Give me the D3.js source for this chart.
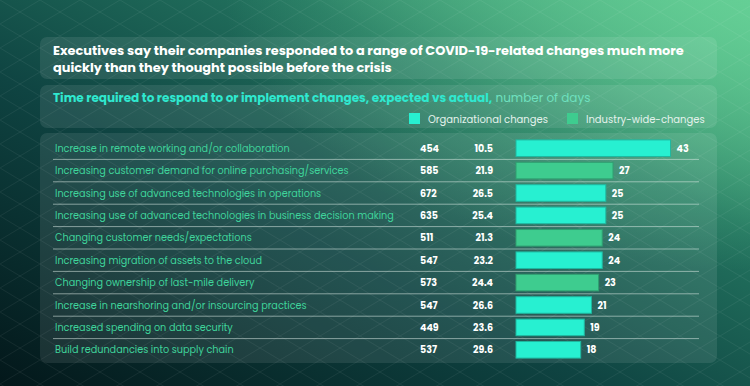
<!DOCTYPE html>
<html>
<head>
<meta charset="utf-8">
<script src="https://cdn.jsdelivr.net/npm/d3@7"></script>
<style>
  html, body { margin: 0; padding: 0; background: #0a2f30; }
  svg { display: block; }
</style>
</head>
<body>
<div class="board"></div>
<script>
(function() {

  var categories = [
    'Increase in remote working and/or collaboration',
    'Increasing customer demand for online purchasing/services',
    'Increasing use of advanced technologies in operations',
    'Increasing use of advanced technologies in business decision making',
    'Changing customer needs/expectations',
    'Increasing migration of assets to the cloud',
    'Changing ownership of last-mile delivery',
    'Increase in nearshoring and/or insourcing practices',
    'Increased spending on data security',
    'Build redundancies into supply chain'
  ];
  var expectedDays = [454, 585, 672, 635, 511, 547, 573, 547, 449, 537];
  var actualDays = [10.5, 21.9, 26.5, 25.4, 21.3, 23.2, 24.4, 26.6, 23.6, 29.6];
  var speedUp = [43, 27, 25, 25, 24, 24, 23, 21, 19, 18];
  var changeType = ['org', 'ind', 'org', 'org', 'ind', 'org', 'ind', 'org', 'org', 'org'];
  var legendLabels = ['Organizational changes', 'Industry-wide-changes'];

  var W = 750, H = 386;
  var colors = { org: '#27f0d1', ind: '#3ecc8f' };
  var strokes = { org: '#1fb8a0', ind: '#2f9f70' };
  var font = 'Poppins, "Noto Sans", sans-serif';

  var rows = categories.map(function(c, i) {
    return { cat: c, exp: expectedDays[i], act: actualDays[i], val: speedUp[i], type: changeType[i] };
  });

  var svg = d3.select('.board')
    .append('svg')
    .attr('width', W)
    .attr('height', H);

  var defs = svg.append('defs');

  var bg = defs.append('linearGradient')
    .attr('id', 'bg')
    .attr('x1', '0%').attr('y1', '100%')
    .attr('x2', '100%').attr('y2', '0%');
  bg.append('stop').attr('offset', '0%').attr('stop-color', '#03171a');
  bg.append('stop').attr('offset', '40%').attr('stop-color', '#0f4442');
  bg.append('stop').attr('offset', '70%').attr('stop-color', '#23745f');
  bg.append('stop').attr('offset', '100%').attr('stop-color', '#5fca92');

  var glow = defs.append('radialGradient')
    .attr('id', 'glow')
    .attr('cx', '100%').attr('cy', '0%').attr('r', '70%');
  glow.append('stop').attr('offset', '0%').attr('stop-color', '#66d096').attr('stop-opacity', 0.8);
  glow.append('stop').attr('offset', '100%').attr('stop-color', '#66d096').attr('stop-opacity', 0);

  var pat = defs.append('pattern')
    .attr('id', 'diamonds')
    .attr('patternUnits', 'userSpaceOnUse')
    .attr('width', 40).attr('height', 24);
  pat.append('path')
    .attr('d', 'M0,0 L40,24 M40,0 L0,24')
    .attr('stroke', 'rgba(255,255,255,0.07)')
    .attr('stroke-width', 0.8)
    .attr('fill', 'none');

  svg.append('rect').attr('width', W).attr('height', H).attr('fill', 'url(#bg)');
  svg.append('rect').attr('width', W).attr('height', H).attr('fill', 'url(#glow)');
  svg.append('rect').attr('width', W).attr('height', H).attr('fill', 'url(#diamonds)');

  // panels
  var panels = [
    { y: 37, h: 42 },
    { y: 85, h: 43 },
    { y: 133, h: 230 }
  ];
  svg.selectAll('rect.panel')
    .data(panels)
    .enter()
    .append('rect')
    .attr('class', 'panel')
    .attr('x', 40)
    .attr('width', 677)
    .attr('y', function(d) { return d.y; })
    .attr('height', function(d) { return d.h; })
    .attr('rx', 7)
    .attr('fill', 'rgba(255,255,255,0.09)');

  // title
  var title = svg.append('text')
    .style('font-family', font)
    .style('font-weight', 700)
    .style('font-size', '12.9px')
    .style('fill', '#ffffff');
  title.append('tspan').attr('x', 53).attr('y', 55)
    .text('Executives say their companies responded to a range of COVID-19-related changes much more');
  title.append('tspan').attr('x', 53).attr('y', 71.5)
    .text('quickly than they thought possible before the crisis');

  var sub = svg.append('text')
    .attr('x', 53)
    .attr('y', 102)
    .style('font-family', font)
    .style('font-size', '12px');
  sub.append('tspan')
    .style('font-weight', 700)
    .style('fill', '#2fe8cf')
    .text('Time required to respond to or implement changes, expected vs actual,');
  sub.append('tspan')
    .style('font-weight', 400)
    .style('fill', '#6fe0bf')
    .text(' number of days');

  // legend
  var legendX = [409, 567];
  var legend = svg.selectAll('g.legend')
    .data(legendLabels)
    .enter()
    .append('g')
    .attr('class', 'legend')
    .attr('transform', function(d, i) { return 'translate(' + legendX[i] + ',113)'; });
  legend.append('rect')
    .attr('width', 11)
    .attr('height', 11)
    .attr('fill', function(d, i) { return i === 0 ? colors.org : colors.ind; });
  legend.append('text')
    .attr('x', 19)
    .attr('y', 9.5)
    .text(function(d) { return d; })
    .style('font-family', font)
    .style('font-size', '10px')
    .style('fill', '#e4f2ec');

  // table rows
  var y = d3.scaleBand()
    .domain(categories)
    .range([137, 361])
    .padding(0);

  var x = d3.scaleLinear()
    .domain([0, 43])
    .range([516, 670.5]);

  var barH = y.bandwidth() * 0.74;

  svg.selectAll('line.sep')
    .data(categories.slice(0, -1))
    .enter()
    .append('line')
    .attr('class', 'sep')
    .attr('x1', 53)
    .attr('x2', 699)
    .attr('y1', function(d) { return y(d) + y.bandwidth(); })
    .attr('y2', function(d) { return y(d) + y.bandwidth(); })
    .attr('stroke', 'rgba(220,235,230,0.55)')
    .attr('stroke-width', 1);

  var row = svg.selectAll('g.row')
    .data(rows)
    .enter()
    .append('g')
    .attr('class', 'row')
    .attr('transform', function(d) { return 'translate(0,' + (y(d.cat) + y.bandwidth() / 2) + ')'; });

  row.append('text')
    .attr('x', 55)
    .attr('y', 3.5)
    .text(function(d) { return d.cat; })
    .style('font-family', font)
    .style('font-size', '9.7px')
    .style('fill', '#3fd49b');

  row.append('text')
    .attr('x', 420)
    .attr('y', 3.5)
    .text(function(d) { return d.exp; })
    .style('font-family', font)
    .style('font-weight', 700)
    .style('font-size', '9.5px')
    .style('fill', '#ffffff');

  row.append('text')
    .attr('x', 493)
    .attr('y', 3.5)
    .text(function(d) { return d.act; })
    .style('font-family', font)
    .style('font-weight', 700)
    .style('font-size', '9.5px')
    .style('fill', '#ffffff')
    .style('text-anchor', 'end');

  row.append('rect')
    .attr('x', x(0))
    .attr('y', -barH / 2)
    .attr('height', barH)
    .attr('width', function(d) { return x(d.val) - x(0); })
    .attr('fill', function(d) { return colors[d.type]; })
    .attr('stroke', function(d) { return strokes[d.type]; })
    .attr('stroke-width', 1);

  row.append('text')
    .attr('x', function(d) { return x(d.val) + 6; })
    .attr('y', 3.5)
    .text(function(d) { return d.val; })
    .style('font-family', font)
    .style('font-weight', 700)
    .style('font-size', '9.5px')
    .style('fill', '#ffffff');

})();
</script>
</body>
</html>
